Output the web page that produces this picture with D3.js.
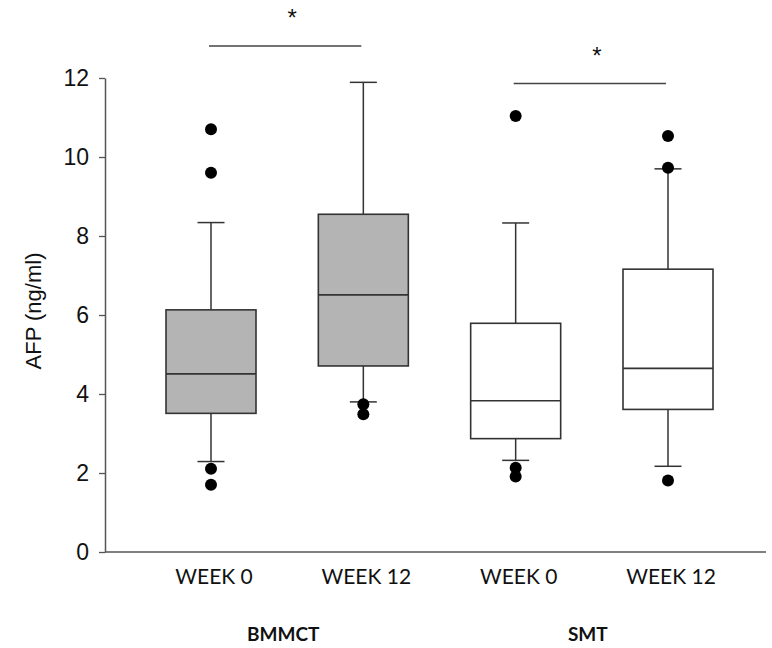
<!DOCTYPE html>
<html>
<head>
<meta charset="utf-8">
<script src="https://cdn.jsdelivr.net/npm/d3@7"></script>
<style>
    body { margin: 0; background: #fff; }
    svg { display: block; }
</style>
</head>
<body>
<svg width="772" height="648"></svg>
<script>
// groups on the x axis
const keys = ["b0", "b12", "s0", "s12"];
const weekLabels = ["WEEK 0", "WEEK 12", "WEEK 0", "WEEK 12"];
const groupLabels = ["BMMCT", "SMT"];
const fills = ["#b4b4b4", "#b4b4b4", "#ffffff", "#ffffff"];
// box stats
const whiskerLow = [2.29, 3.80, 2.32, 2.17];
const q1 = [3.51, 4.71, 2.87, 3.61];
const median = [4.51, 6.51, 3.83, 4.65];
const q3 = [6.13, 8.55, 5.79, 7.16];
const whiskerHigh = [8.34, 11.89, 8.33, 9.70];
const outliers = [
    [10.70, 9.60, 2.11, 1.70],
    [3.74, 3.49],
    [11.04, 2.13, 1.91],
    [10.53, 9.73, 1.81]
];
const yTicks = [0, 2, 4, 6, 8, 10, 12];
// significance brackets: [from, to, level]
const brackets = [["b0", "b12", 12.81], ["s0", "s12", 11.86]];

const width = 772;
const height = 648;
const boxWidth = 90;
const capWidth = 27;

let svg = d3.select("svg")
    .attr("viewBox", [0, 0, width, height]);

let x = d3.scalePoint()
    .domain(keys)
    .range([211, 668]);
let y = d3.scaleLinear()
    .domain([0, 12])
    .range([552, 78]);

// y axis
let yAxis = svg.append("g")
    .attr("transform", "translate(105,0)")
    .call(d3.axisLeft(y).tickValues(yTicks).tickSize(6).tickSizeOuter(0).tickPadding(10));
yAxis.select(".domain").attr("stroke", "#555").attr("stroke-width", 1.5);
yAxis.selectAll(".tick line").attr("stroke", "#555").attr("stroke-width", 1.3);
yAxis.selectAll("text")
    .attr("font-family", "Liberation Sans, Arial, sans-serif")
    .attr("font-size", 23)
    .attr("fill", "#111");

// x axis line
svg.append("line")
    .attr("x1", 105)
    .attr("x2", 766)
    .attr("y1", y(0))
    .attr("y2", y(0))
    .attr("stroke", "#555")
    .attr("stroke-width", 1.5);

svg.append("text")
    .attr("transform", "translate(41,311) rotate(-90)")
    .attr("text-anchor", "middle")
    .attr("font-family", "Liberation Sans, Arial, sans-serif")
    .attr("font-size", 22)
    .attr("fill", "#111")
    .text("AFP (ng/ml)");

let boxes = svg.append("g")
    .classed("boxes", true)
    .selectAll("g")
    .data(keys)
    .join("g");

// whiskers
boxes.append("line")
    .attr("x1", d => x(d))
    .attr("x2", d => x(d))
    .attr("y1", (d, i) => y(whiskerHigh[i]))
    .attr("y2", (d, i) => y(q3[i]))
    .attr("stroke", "#333")
    .attr("stroke-width", 1.5);
boxes.append("line")
    .attr("x1", d => x(d))
    .attr("x2", d => x(d))
    .attr("y1", (d, i) => y(q1[i]))
    .attr("y2", (d, i) => y(whiskerLow[i]))
    .attr("stroke", "#333")
    .attr("stroke-width", 1.5);
[whiskerHigh, whiskerLow].forEach(arr => {
    boxes.append("line")
        .attr("x1", d => x(d) - capWidth / 2)
        .attr("x2", d => x(d) + capWidth / 2)
        .attr("y1", (d, i) => y(arr[i]))
        .attr("y2", (d, i) => y(arr[i]))
        .attr("stroke", "#333")
        .attr("stroke-width", 1.5);
});

boxes.append("rect")
    .attr("x", d => x(d) - boxWidth / 2)
    .attr("y", (d, i) => y(q3[i]))
    .attr("width", boxWidth)
    .attr("height", (d, i) => y(q1[i]) - y(q3[i]))
    .attr("fill", (d, i) => fills[i])
    .attr("stroke", "#333")
    .attr("stroke-width", 1.6);
boxes.append("line")
    .attr("x1", d => x(d) - boxWidth / 2)
    .attr("x2", d => x(d) + boxWidth / 2)
    .attr("y1", (d, i) => y(median[i]))
    .attr("y2", (d, i) => y(median[i]))
    .attr("stroke", "#333")
    .attr("stroke-width", 1.6);

boxes.each(function(d, i) {
    d3.select(this).selectAll("circle")
        .data(outliers[i])
        .join("circle")
        .attr("cx", x(d))
        .attr("cy", v => y(v))
        .attr("r", 6)
        .attr("fill", "#000");
});

// category labels
svg.append("g")
    .selectAll("text")
    .data(keys)
    .join("text")
    .attr("x", d => x(d) + 3)
    .attr("y", 584)
    .attr("text-anchor", "middle")
    .attr("font-family", "Lato, Open Sans, sans-serif")
    .attr("font-size", 21)
    .attr("fill", "#111")
    .text((d, i) => weekLabels[i]);

svg.append("g")
    .selectAll("text")
    .data(groupLabels)
    .join("text")
    .attr("x", (d, i) => (x(keys[i * 2]) + x(keys[i * 2 + 1])) / 2 - 4)
    .attr("y", 641)
    .attr("text-anchor", "middle")
    .attr("font-family", "Lato, Open Sans, sans-serif")
    .attr("font-weight", "bold")
    .attr("font-size", 19)
    .attr("fill", "#111")
    .text(d => d);

// significance
let sig = svg.append("g")
    .selectAll("g")
    .data(brackets)
    .join("g");
sig.append("line")
    .attr("x1", d => x(d[0]) - 2)
    .attr("x2", d => x(d[1]) - 2)
    .attr("y1", d => y(d[2]))
    .attr("y2", d => y(d[2]))
    .attr("stroke", "#444")
    .attr("stroke-width", 1.5);
sig.append("text")
    .attr("x", d => (x(d[0]) + x(d[1])) / 2 + 5)
    .attr("y", d => y(d[2]) - 20)
    .attr("text-anchor", "middle")
    .attr("font-family", "Liberation Sans, Arial, sans-serif")
    .attr("font-size", 24)
    .attr("fill", "#111")
    .text("*");
</script>
</body>
</html>
